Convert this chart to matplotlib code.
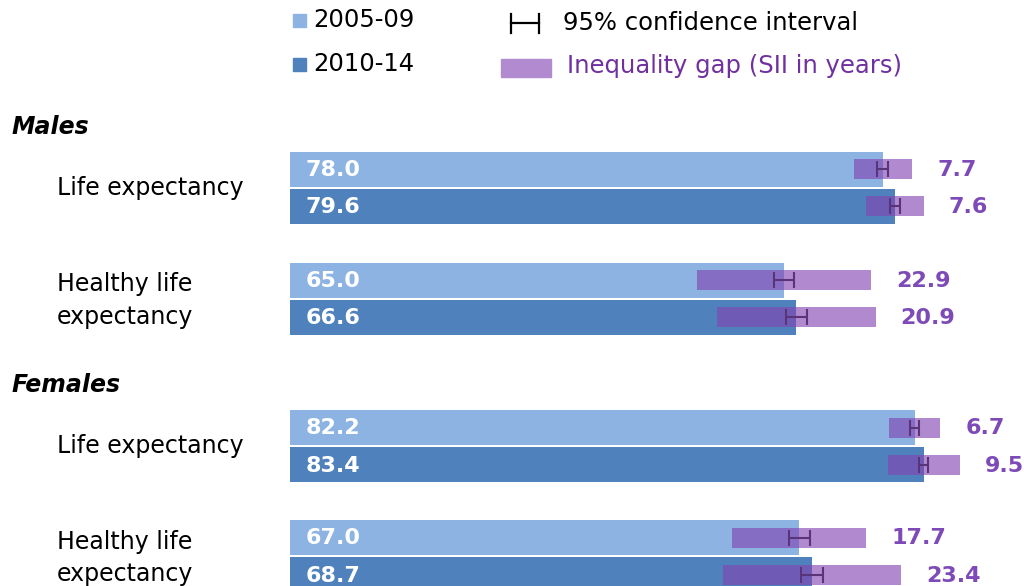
import matplotlib
matplotlib.use("Agg")
import matplotlib.pyplot as plt
from matplotlib.patches import Rectangle

plt.rcParams["font.family"] = ["DejaVu Sans"]

# data
groups = ["Males", "Females"]
measures = ["Life expectancy", "Healthy life\nexpectancy"]
periods = ["2005-09", "2010-14"]

le_0509 = [78.0, 65.0, 82.2, 67.0]
le_1014 = [79.6, 66.6, 83.4, 68.7]
ci_0509 = [0.7, 1.3, 0.6, 1.4]
ci_1014 = [0.7, 1.4, 0.6, 1.4]
sii_0509 = [7.7, 22.9, 6.7, 17.7]
sii_1014 = [7.6, 20.9, 9.5, 23.4]

# colours
c_light = "#8DB3E2"
c_dark = "#4F81BD"
c_gap = "#8345B3"
c_gap_solid = "#B18ACF"
c_ci = "#5A3478"
c_sii_txt = "#7D4AB8"

W, H = 1024, 586
fig = plt.figure(figsize=(W / 100, H / 100), dpi=100)

# bar axes: x in years (0 at 290px, 7.6 px per year), y in pixels from top
ax = fig.add_axes([0, 0, 1, 1])
px_per_year = 7.6
ax.set_xlim(-290 / px_per_year, (W - 290) / px_per_year)
ax.set_ylim(H, 0)
ax.axis("off")

# layout: centre of each pair of bars (pixels from top)
row_mid = [187.5, 298.5, 446, 556]
off = 18.5
bar_h = 35
gap_h = 20

series = [
    (le_0509, ci_0509, sii_0509, c_light, -off),
    (le_1014, ci_1014, sii_1014, c_dark, off),
]

for vals, cis, siis, col, d in series:
    ys = [m + d for m in row_mid]
    ax.barh(ys, vals, height=bar_h, color=col, zorder=1)
    ax.barh(ys, siis, left=[v - s / 2 for v, s in zip(vals, siis)],
            height=gap_h, color=c_gap, alpha=0.63, zorder=2)
    ax.errorbar(vals, ys, xerr=cis, fmt="none", ecolor=c_ci, elinewidth=1.5,
                capsize=6, capthick=1.5, zorder=3)
    for y, v, s in zip(ys, vals, siis):
        ax.text(2.0, y + 1, f"{v:.1f}", color="white", fontweight="bold",
                fontsize=16, ha="left", va="center")
        ax.text(v + s / 2 + 3.3, y + 1, f"{s:.1f}", color=c_sii_txt,
                fontweight="bold", fontsize=16, ha="left", va="center")

# overlay axes in pixel coords for labels and legend
lay = fig.add_axes([0, 0, 1, 1])
lay.set_xlim(0, W)
lay.set_ylim(H, 0)
lay.axis("off")
lay.patch.set_alpha(0)

head_y = [127, 385]
for g, y in zip(groups, head_y):
    lay.text(12, y, g, fontsize=17, fontweight="bold", fontstyle="italic",
             ha="left", va="center")

for i, m in enumerate(row_mid):
    lay.text(57, m + (2 if i % 2 else 0), measures[i % 2], fontsize=17,
             ha="left", va="center", linespacing=1.45)

# legend
lay.add_patch(Rectangle((293, 14), 13, 13, color=c_light))
lay.text(313, 20, periods[0], fontsize=17.5, ha="left", va="center")
lay.add_patch(Rectangle((293, 58), 13, 13, color=c_dark))
lay.text(313, 64, periods[1], fontsize=17.5, ha="left", va="center")

lay.plot([511, 539], [23, 23], color="black", lw=1.6)
lay.plot([511, 511], [14, 33], color="black", lw=1.6)
lay.plot([539, 539], [14, 33], color="black", lw=1.6)
lay.text(563, 23, "95% confidence interval", fontsize=17.5, ha="left",
         va="center")

lay.add_patch(Rectangle((501, 59), 50, 18, color=c_gap_solid))
lay.text(567, 66, "Inequality gap (SII in years)", fontsize=17.5,
         color="#7030A0", ha="left", va="center")

fig.savefig("out.png", dpi=100)
